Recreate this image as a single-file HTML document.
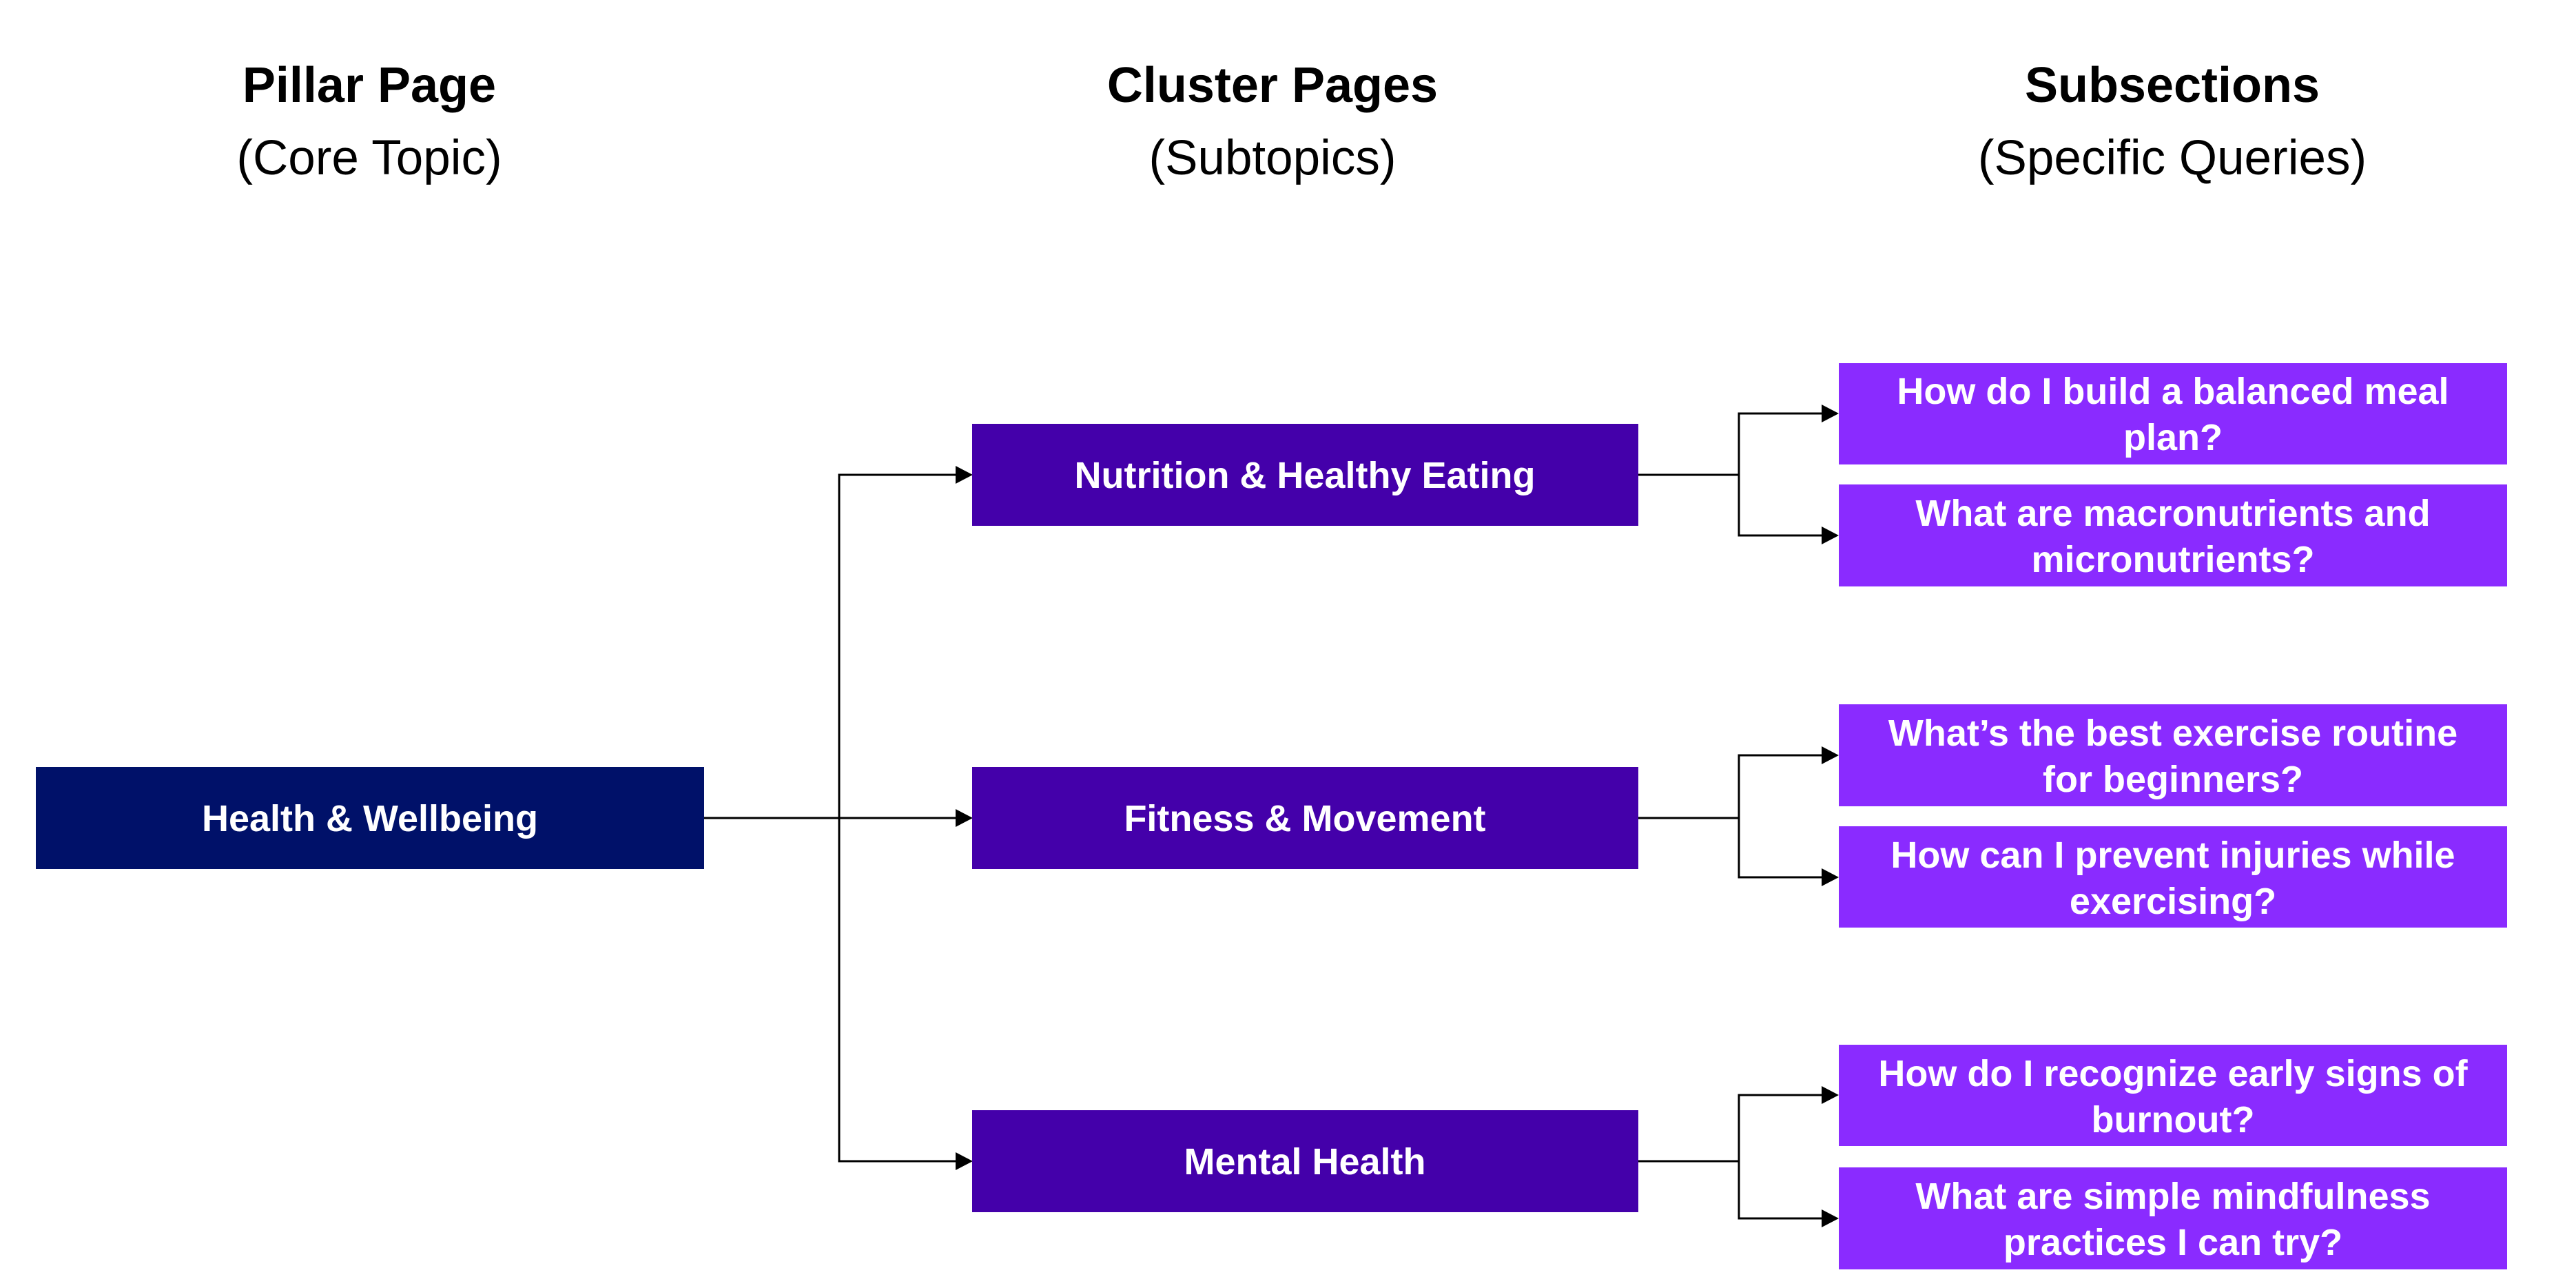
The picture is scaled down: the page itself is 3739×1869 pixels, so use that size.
<!DOCTYPE html>
<html><head><meta charset="utf-8"><style>
html,body{margin:0;padding:0;background:#fff;}
svg{display:block;}
text{font-family:"Liberation Sans",Arial,sans-serif;}
</style></head><body>
<svg width="3739" height="1869" viewBox="0 0 3739 1869" xmlns="http://www.w3.org/2000/svg">
<defs>
<filter id="glow" x="-20%" y="-50%" width="140%" height="200%"><feGaussianBlur stdDeviation="12"/></filter>
</defs>
<!-- headers -->
<g text-anchor="middle" fill="#000">
<text x="536" y="148" font-size="72" font-weight="bold">Pillar Page</text>
<text x="536" y="253" font-size="71">(Core Topic)</text>
<text x="1847" y="148" font-size="72" font-weight="bold">Cluster Pages</text>
<text x="1847" y="253" font-size="71">(Subtopics)</text>
<text x="3153" y="148" font-size="72" font-weight="bold">Subsections</text>
<text x="3153" y="253" font-size="71">(Specific Queries)</text>
</g>
<!-- connectors -->
<g stroke="#000" stroke-width="3" fill="none">
<line x1="1022" y1="1187" x2="1390" y2="1187"/>
<polyline points="1390,689 1218,689 1218,1685 1390,1685"/>
<polyline points="2378,689 2524,689"/>
<polyline points="2646,600 2524,600 2524,777 2646,777"/>
<polyline points="2378,1187 2524,1187"/>
<polyline points="2646,1096 2524,1096 2524,1273 2646,1273"/>
<polyline points="2378,1685 2524,1685"/>
<polyline points="2646,1589 2524,1589 2524,1768 2646,1768"/>
</g>
<g fill="#000">
<polygon points="1387,676 1412,689 1387,702"/>
<polygon points="1387,1174 1412,1187 1387,1200"/>
<polygon points="1387,1672 1412,1685 1387,1698"/>
<polygon points="2644,587 2669,600 2644,613"/>
<polygon points="2644,764 2669,777 2644,790"/>
<polygon points="2644,1083 2669,1096 2644,1109"/>
<polygon points="2644,1260 2669,1273 2644,1286"/>
<polygon points="2644,1576 2669,1589 2644,1602"/>
<polygon points="2644,1755 2669,1768 2644,1781"/>
</g>
<!-- boxes -->
<rect x="52" y="1113" width="970" height="148" fill="#001169"/>
<rect x="1411" y="615" width="967" height="148" fill="#4400AA"/>
<rect x="1411" y="1113" width="967" height="148" fill="#4400AA"/>
<rect x="1411" y="1611" width="967" height="148" fill="#4400AA"/>
<g fill="#8A2BFF">
<rect x="2669" y="527" width="970" height="147"/>
<rect x="2669" y="703" width="970" height="148"/>
<rect x="2669" y="1022" width="970" height="148"/>
<rect x="2669" y="1199" width="970" height="147"/>
<rect x="2669" y="1516" width="970" height="147"/>
<rect x="2669" y="1694" width="970" height="148"/>
</g>
<g text-anchor="middle" fill="#fff" font-weight="bold" font-size="54">
<text x="537" y="1206">Health &amp; Wellbeing</text>
<text x="1894" y="708">Nutrition &amp; Healthy Eating</text>
<text x="1894" y="1206">Fitness &amp; Movement</text>
<text x="1894" y="1704">Mental Health</text>
<text x="3154" y="586">How do I build a balanced meal</text>
<text x="3154" y="653">plan?</text>
<text x="3154" y="763">What are macronutrients and</text>
<text x="3154" y="830">micronutrients?</text>
<text x="3154" y="1082">What’s the best exercise routine</text>
<text x="3154" y="1149">for beginners?</text>
<text x="3154" y="1259">How can I prevent injuries while</text>
<text x="3154" y="1326">exercising?</text>
<text x="3154" y="1576">How do I recognize early signs of</text>
<text x="3154" y="1643">burnout?</text>
<text x="3154" y="1754">What are simple mindfulness</text>
<text x="3154" y="1821">practices I can try?</text>
</g>
</svg>
</body></html>
